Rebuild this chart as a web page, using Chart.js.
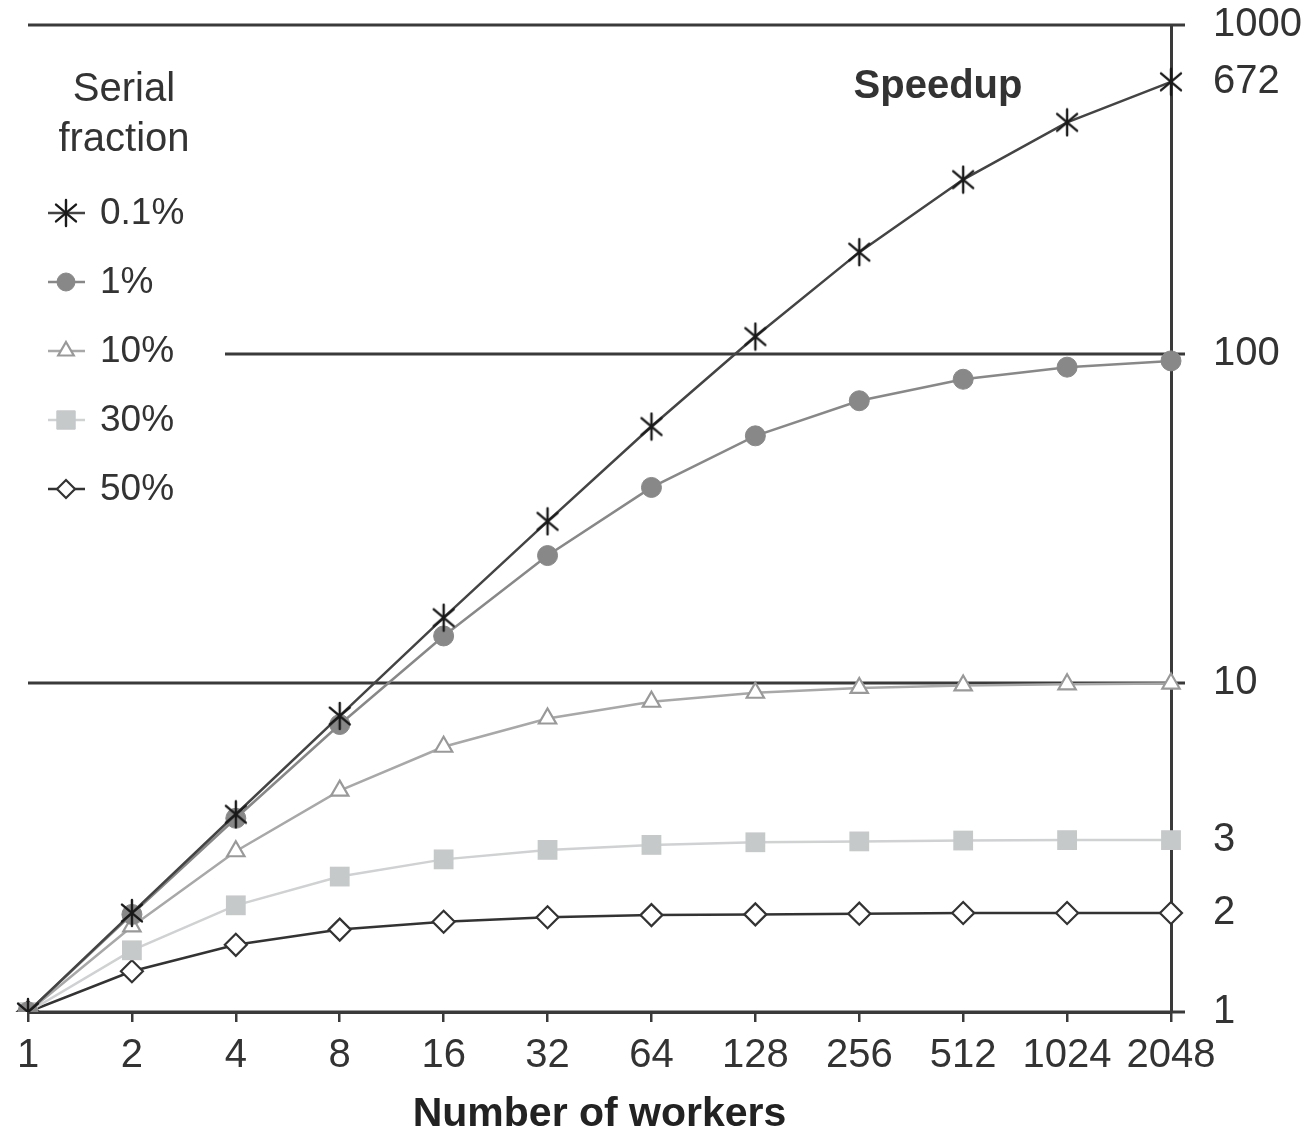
<!DOCTYPE html>
<html>
<head>
<meta charset="utf-8">
<title>Speedup vs number of workers</title>
<script src="https://cdn.jsdelivr.net/npm/chart.js@4.4.1/dist/chart.umd.min.js"></script>
<style>
    html, body { margin: 0; padding: 0; background: #fff; }
    #wrap { width: 1310px; height: 1137px; position: relative; }
</style>
</head>
<body>
<div id="wrap"><canvas id="speedupChart"></canvas></div>
<script>
// Number of workers (x categories)
const workers = ['1', '2', '4', '8', '16', '32', '64', '128', '256', '512', '1024', '2048'];

// Speedup per serial fraction
const speedup01 = [1, 2.0, 3.99, 7.94, 15.8, 31.0, 60.2, 113, 204, 339, 506, 672];
const speedup1 = [1, 1.98, 3.88, 7.48, 13.9, 24.4, 39.3, 56.4, 72.1, 83.8, 91.2, 95.3];
const speedup10 = [1, 1.82, 3.08, 4.71, 6.4, 7.8, 8.77, 9.34, 9.66, 9.83, 9.91, 9.96];
const speedup30 = [1, 1.54, 2.11, 2.58, 2.91, 3.11, 3.22, 3.28, 3.30, 3.32, 3.33, 3.33];
const speedup50 = [1, 1.33, 1.6, 1.78, 1.88, 1.94, 1.97, 1.98, 1.99, 2.0, 2.0, 2.0];

const seriesLabels = ['0.1%', '1%', '10%', '30%', '50%'];

// Right axis ticks
const yTickValues = [1, 2, 3.33, 10, 100, 672, 1000];
const yTickLabels = ['1', '2', '3', '10', '100', '672', '1000'];
const gridValues = [1, 10, 100, 1000];

const FONT = "'Liberation Sans', Arial, sans-serif";
const TEXT = '#333';
const AXIS = '#3a3a3a';

// 6-armed asterisk marker
function makeAsterisk() {
    const c = document.createElement('canvas');
    c.width = 30;
    c.height = 30;
    const g = c.getContext('2d');
    g.strokeStyle = '#1a1a1a';
    g.lineWidth = 2.4;
    g.lineCap = 'round';
    const r = 13;
    [90, 40, 140].forEach(deg => {
        const a = deg * Math.PI / 180;
        g.beginPath();
        g.moveTo(15 - r * Math.cos(a), 15 - r * Math.sin(a));
        g.lineTo(15 + r * Math.cos(a), 15 + r * Math.sin(a));
        g.stroke();
    });
    return c;
}
const asterisk = makeAsterisk();

const datasets = [
    { label: seriesLabels[0], data: speedup01, borderColor: '#444', borderWidth: 2.5,
      pointStyle: asterisk, pointRadius: 13, pointBackgroundColor: '#222', pointBorderColor: '#222' },
    { label: seriesLabels[1], data: speedup1, borderColor: '#888', borderWidth: 2.5,
      pointStyle: 'circle', pointRadius: 10, pointBackgroundColor: '#888', pointBorderColor: '#888', pointBorderWidth: 1 },
    { label: seriesLabels[2], data: speedup10, borderColor: '#a8a8a8', borderWidth: 2.5,
      pointStyle: 'triangle', pointRadius: 10, pointBackgroundColor: '#fff', pointBorderColor: '#999', pointBorderWidth: 2.2 },
    { label: seriesLabels[3], data: speedup30, borderColor: '#cfd1d2', borderWidth: 2.5,
      pointStyle: 'rect', pointRadius: 14, pointBackgroundColor: '#c6c9ca', pointBorderColor: '#c6c9ca', pointBorderWidth: 0 },
    { label: seriesLabels[4], data: speedup50, borderColor: '#333', borderWidth: 2.5,
      pointStyle: 'rectRot', pointRadius: 11, pointBackgroundColor: '#fff', pointBorderColor: '#333', pointBorderWidth: 2.2 }
];

// Horizontal rules at 1, 10, 100, 1000 (the 100 rule stops short of the legend)
const gridPlugin = {
    id: 'decadeRules',
    beforeDatasetsDraw(chart) {
        const { ctx, chartArea, scales } = chart;
        ctx.save();
        ctx.strokeStyle = AXIS;
        ctx.lineWidth = 3;
        gridValues.forEach(v => {
            const y = Math.round(scales.y.getPixelForValue(v));
            const x0 = v === 100 ? 225 : chartArea.left;
            ctx.beginPath();
            ctx.moveTo(x0, y);
            ctx.lineTo(chartArea.right + 14, y);
            ctx.stroke();
        });
        ctx.restore();
    }
};

// Legend block and "Speedup" label inside the plot
const legendPlugin = {
    id: 'insideLegend',
    afterDraw(chart) {
        const { ctx } = chart;
        ctx.save();
        ctx.fillStyle = TEXT;
        ctx.textAlign = 'center';
        ctx.textBaseline = 'middle';
        ctx.font = `40px ${FONT}`;
        ctx.fillText('Serial', 124, 90);
        ctx.fillText('fraction', 124, 140);

        ctx.font = `bold 40px ${FONT}`;
        ctx.fillText('Speedup', 938, 87);

        chart.data.datasets.forEach((ds, i) => {
            const y = 213 + i * 69;
            ctx.strokeStyle = ds.borderColor;
            ctx.lineWidth = 2.5;
            ctx.beginPath();
            ctx.moveTo(48, y);
            ctx.lineTo(85, y);
            ctx.stroke();
            ctx.fillStyle = ds.pointBackgroundColor;
            ctx.strokeStyle = ds.pointBorderColor;
            ctx.lineWidth = ds.pointBorderWidth || 1;
            if (Chart.helpers && Chart.helpers.drawPoint) {
                Chart.helpers.drawPoint(ctx, {
                    pointStyle: ds.pointStyle,
                    radius: ds.pointStyle === 'rect' ? 13 : (ds.pointStyle === asterisk ? 12 : 9),
                    rotation: 0,
                    borderWidth: ds.pointBorderWidth || 1
                }, 66, y);
            }
            ctx.fillStyle = TEXT;
            ctx.textAlign = 'left';
            ctx.font = `37px ${FONT}`;
            ctx.fillText(ds.label, 100, y + 1);
        });
        ctx.restore();
    }
};

document.addEventListener('DOMContentLoaded', () => {
    new Chart(document.getElementById('speedupChart'), {
        type: 'line',
        data: { labels: workers, datasets: datasets },
        options: {
            responsive: true,
            maintainAspectRatio: false,
            animation: false,
            layout: { padding: { left: 28, top: 25, right: 0, bottom: 0 } },
            elements: { line: { tension: 0 } },
            plugins: {
                legend: { display: false },
                tooltip: { enabled: false }
            },
            scales: {
                x: {
                    type: 'category',
                    offset: false,
                    grid: {
                        drawOnChartArea: false,
                        drawTicks: true,
                        tickLength: 10,
                        color: AXIS,
                        lineWidth: 2.5
                    },
                    border: { display: true, color: AXIS, width: 3 },
                    ticks: {
                        autoSkip: false,
                        maxRotation: 0,
                        padding: 10,
                        color: TEXT,
                        font: { family: FONT, size: 40 }
                    },
                    title: {
                        display: true,
                        text: 'Number of workers',
                        color: '#222',
                        font: { family: FONT, size: 41, weight: 'bold' },
                        padding: { top: 0, bottom: -2 }
                    },
                    afterFit(scale) {
                        scale.height = 125;
                        scale.paddingLeft = 0;
                        scale.paddingRight = 0;
                    }
                },
                y: {
                    type: 'logarithmic',
                    position: 'right',
                    min: 1,
                    max: 1000,
                    grid: { display: false, drawTicks: false },
                    border: { display: true, color: AXIS, width: 3 },
                    afterBuildTicks(scale) {
                        scale.ticks = yTickValues.map(v => ({ value: v }));
                    },
                    ticks: {
                        padding: 42,
                        color: TEXT,
                        font: { family: FONT, size: 40 },
                        callback: (value, index) => yTickLabels[index]
                    },
                    afterFit(scale) {
                        scale.width = 139;
                        scale.paddingTop = 0;
                        scale.paddingBottom = 0;
                    }
                }
            }
        },
        plugins: [gridPlugin, legendPlugin]
    });
});
</script>
</body>
</html>
